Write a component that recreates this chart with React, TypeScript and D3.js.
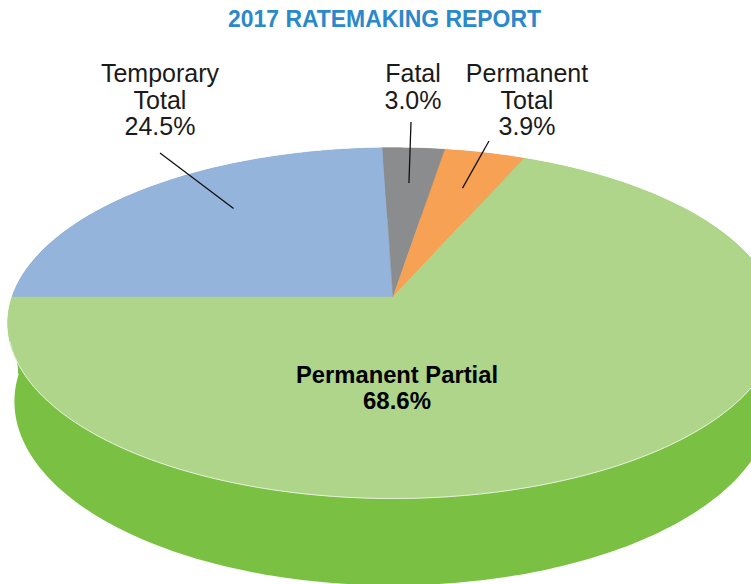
import React, { useEffect, useRef } from 'react';
import * as d3 from 'd3';

const title = '2017 RATEMAKING REPORT';
const categories = ['Temporary Total', 'Fatal', 'Permanent Total', 'Permanent Partial'];
const shares = [24.5, 3.0, 3.9, 68.6];
const topColors = ['#95b4dc', '#8b8c8e', '#f7a154', '#aed58a'];
const sideColors = ['#6f8fbd', '#6a6b6d', '#d9822f', '#7ac143'];

// outside label lines (last line is the percentage)
const outsideLabels = [
  ['Temporary', 'Total'],
  ['Fatal'],
  ['Permanent', 'Total'],
];

const App = () => {
  const ref = useRef<SVGSVGElement>(null);

  const drawChart = () => {
    const svgWidth = 751,
      svgHeight = 584;
    const svg = d3.select(ref.current).attr('width', svgWidth).attr('height', svgHeight);
    svg.selectAll('*').remove();

    // 3d pie projection (perspective, tilted toward the viewer)
    const cx = 393,
      cy = 297,
      K = 381;
    const D = 5.99;
    const phi = Math.asin(0.45);
    const depth = 0.232;

    const project = (theta: number, r: number, y: number): [number, number] => {
      const X = r * Math.sin(theta);
      const Z = -r * Math.cos(theta);
      const v = Z * Math.sin(phi) - y * Math.cos(phi);
      const w = Z * Math.cos(phi) + y * Math.sin(phi);
      const s = D / (D - w);
      return [cx + X * s * K, cy + v * s * K];
    };

    const arcPoints = (a0: number, a1: number, r: number, y: number) => {
      const n = Math.max(2, Math.ceil(Math.abs(a1 - a0) / (Math.PI / 180)));
      return d3.range(n + 1).map((i) => project(a0 + ((a1 - a0) * i) / n, r, y));
    };

    const pie = d3
      .pie<number>()
      .sort(null)
      .startAngle(-Math.PI / 2)
      .endAngle(1.5 * Math.PI);
    const arcs = pie(shares);

    const line = d3.line().curve(d3.curveLinearClosed);

    const g = svg.append('g');

    // side walls, back ones first
    const maxFront = (a: d3.PieArcDatum<number>) =>
      d3.max(d3.range(0, 1.0001, 0.02), (t) => -Math.cos(a.startAngle + (a.endAngle - a.startAngle) * t)) as number;
    const sides = arcs
      .map((a, i) => ({ a, i }))
      .sort((p, q) => maxFront(p.a) - maxFront(q.a));

    g.selectAll('path.side')
      .data(sides)
      .enter()
      .append('path')
      .attr('class', 'side')
      .attr('fill', (d) => sideColors[d.i])
      .attr('d', (d) =>
        line([
          ...arcPoints(d.a.startAngle, d.a.endAngle, 1, 0),
          ...arcPoints(d.a.startAngle, d.a.endAngle, 1, -depth).reverse(),
        ])
      );

    // top faces
    g.selectAll('path.top')
      .data(arcs)
      .enter()
      .append('path')
      .attr('class', 'top')
      .attr('fill', (d, i) => topColors[i])
      .attr('stroke', (d, i) => topColors[i])
      .attr('stroke-width', 0.5)
      .attr('d', (d) => line([[cx, cy], ...arcPoints(d.startAngle, d.endAngle, 1, 0)]));

    // faint rim along the front edge
    g.append('path')
      .attr('fill', 'none')
      .attr('stroke', '#e4f1d6')
      .attr('stroke-width', 1)
      .attr('d', d3.line()(arcPoints(Math.PI * 0.6, Math.PI * 1.42, 1, 0)));

    // title
    svg
      .append('text')
      .attr('x', 384.5)
      .attr('y', 27)
      .attr('text-anchor', 'middle')
      .attr('font-family', "'Liberation Sans Narrow', 'Arial Narrow', sans-serif")
      .attr('font-weight', 'bold')
      .attr('font-size', 24)
      .attr('textLength', 313)
      .attr('lengthAdjust', 'spacingAndGlyphs')
      .attr('fill', '#2b88cb')
      .text(title);

    // outside labels with leader lines
    const labelPos = [
      { x: 160, y: 82, lx: 160, ly: 153, r: 0.72, da: 0.12 },
      { x: 413, y: 82, lx: 411, ly: 122, r: 0.74, da: 0 },
      { x: 527, y: 82, lx: 489, ly: 141, r: 0.73, da: 0 },
    ];

    outsideLabels.forEach((lines, i) => {
      const p = labelPos[i];
      const a = arcs[i];
      const mid = (a.startAngle + a.endAngle) / 2 + p.da;
      const [ex, ey] = project(mid, p.r, 0);
      g.append('line')
        .attr('x1', p.lx)
        .attr('y1', p.ly)
        .attr('x2', ex)
        .attr('y2', ey)
        .attr('stroke', '#111')
        .attr('stroke-width', 1.3);

      const t = svg
        .append('text')
        .attr('text-anchor', 'middle')
        .attr('font-family', "'Liberation Sans', Arial, sans-serif")
        .attr('font-size', 25)
        .attr('fill', '#1a1a1a');
      [...lines, d3.format('.1f')(shares[i]) + '%'].forEach((s, j) => {
        t.append('tspan').attr('x', p.x).attr('y', p.y + j * 26.5).text(s);
      });
    });

    // inside label for the big slice
    const inside = svg
      .append('text')
      .attr('text-anchor', 'middle')
      .attr('font-family', "'Liberation Sans Narrow', 'Arial Narrow', sans-serif")
      .attr('font-weight', 'bold')
      .attr('font-size', 24)
      .attr('fill', '#000');
    inside.append('tspan').attr('x', 397).attr('y', 383).attr('textLength', 202).attr('lengthAdjust', 'spacingAndGlyphs').text(categories[3]);
    inside.append('tspan').attr('x', 397).attr('y', 409).text(d3.format('.1f')(shares[3]) + '%');
  };

  useEffect(() => {
    document.body.style.margin = '0';
    drawChart();
  }, []);

  return (
    <div style={{ width: 751, height: 584, overflow: 'hidden', background: '#fff' }}>
      <svg ref={ref} style={{ display: 'block' }}></svg>
    </div>
  );
};

export default App;
